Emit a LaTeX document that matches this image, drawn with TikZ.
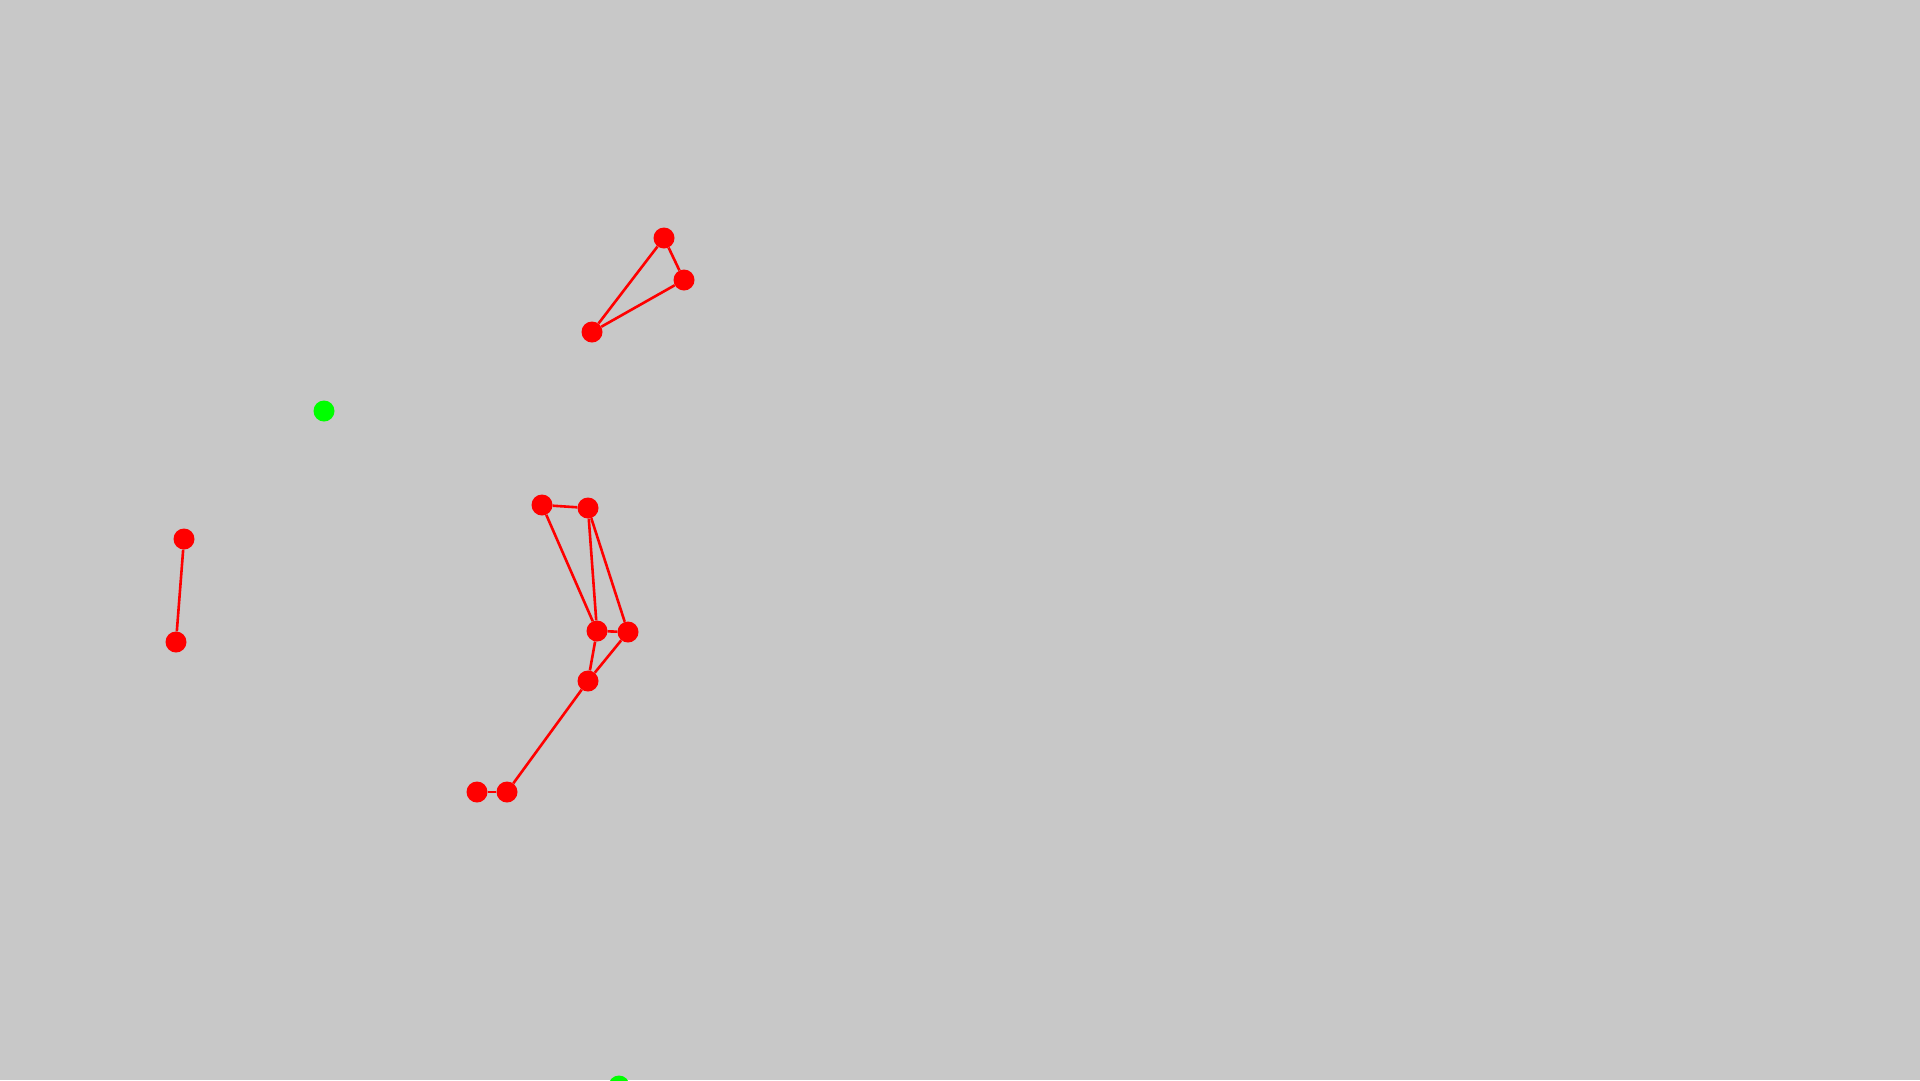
\documentclass[tikz,border=0pt]{standalone}
\usepackage{tikz}

\begin{document}
\begin{tikzpicture}[x=1pt,y=-1pt]
				\tikzstyle{every node}+=[inner sep=0pt]
				\tikzstyle{dot}=[circle, fill=red, minimum size=21pt]
				\tikzstyle{goal}=[circle, fill=green, minimum size=21pt]
				\tikzstyle{link}=[red, line width=2.6pt]
				\definecolor{bg}{RGB}{200,200,200}
				\useasboundingbox (0,0) rectangle (1920,1080);
				\clip (0,0) rectangle (1920,1080);
				\fill [bg] (0,0) rectangle (1920,1080);
				\node [goal] (g1) at (324,411) {};
				\node [goal] (g2) at (619,1086) {};
				\node [dot] (t1) at (664,238) {};
				\node [dot] (t2) at (684,280) {};
				\node [dot] (t3) at (592,332) {};
				\node [dot] (p1) at (184,539) {};
				\node [dot] (p2) at (176,642) {};
				\node [dot] (a) at (542,505) {};
				\node [dot] (b) at (588,508) {};
				\node [dot] (c) at (597,631) {};
				\node [dot] (d) at (628,632) {};
				\node [dot] (e) at (588,681) {};
				\node [dot] (f) at (507,792) {};
				\node [dot] (h) at (477,792) {};
				\draw [link] (t1) -- (t2);
				\draw [link] (t2) -- (t3);
				\draw [link] (t3) -- (t1);
				\draw [link] (p1) -- (p2);
				\draw [link] (a) -- (b);
				\draw [link] (a) -- (c);
				\draw [link] (b) -- (c);
				\draw [link] (b) -- (d);
				\draw [link] (c) -- (d);
				\draw [link] (c) -- (e);
				\draw [link] (d) -- (e);
				\draw [link] (e) -- (f);
				\draw [link] (f) -- (h);
			\end{tikzpicture}
\end{document}
